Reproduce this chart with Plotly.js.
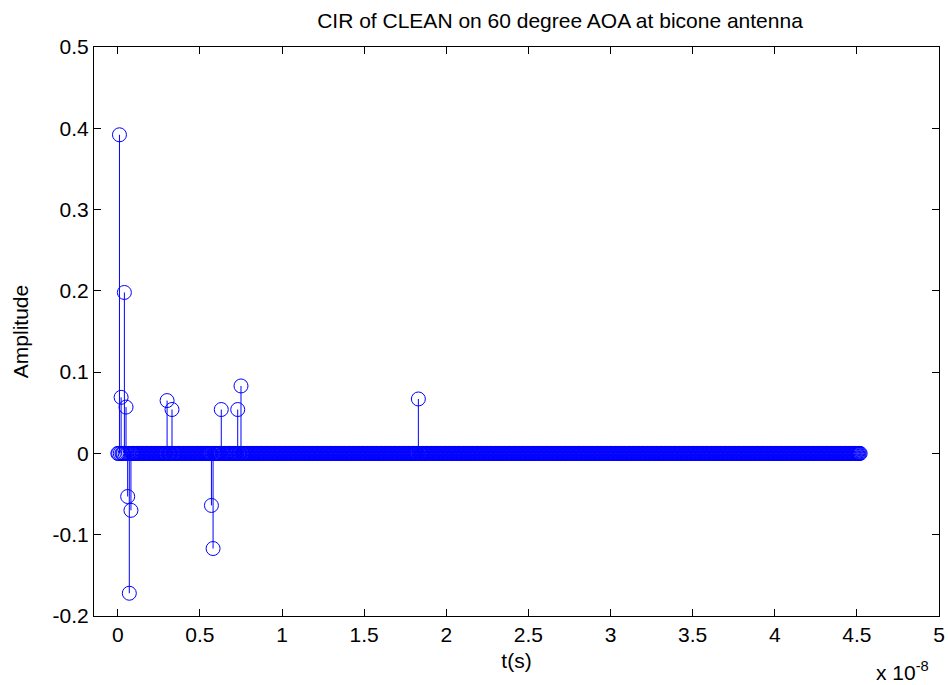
<!DOCTYPE html>
<html>
<head>
<meta charset="utf-8">
<script src="https://cdn.plot.ly/plotly-3.0.1.min.js"></script>
<style>html,body{margin:0;padding:0;background:#fff;}#chart{width:948px;height:685px;}</style>
</head>
<body>
<div id="chart"></div>
<script>
// Time grid of the CLEAN impulse response, in units of 1e-8 s
const gridStart = 0;
const gridStep = 0.005;
const gridCount = 905;

// Non-zero CLEAN taps (time in 1e-8 s, amplitude)
const tapTimes = [0.01, 0.02, 0.04, 0.05, 0.06, 0.07, 0.08, 0.30, 0.33, 0.57, 0.58, 0.63, 0.73, 0.75, 1.83];
const tapAmps  = [0.392, 0.069, 0.198, 0.057, -0.053, -0.172, -0.070, 0.065, 0.054, -0.064, -0.117, 0.054, 0.054, 0.083, 0.067];

// Tick labels
const xTickVals = [0, 0.5, 1, 1.5, 2, 2.5, 3, 3.5, 4, 4.5, 5];
const xTickText = ['0', '0.5', '1', '1.5', '2', '2.5', '3', '3.5', '4', '4.5', '5'];
const yTickVals = [-0.2, -0.1, 0, 0.1, 0.2, 0.3, 0.4, 0.5];
const yTickText = ['-0.2', '-0.1', '0', '0.1', '0.2', '0.3', '0.4', '0.5'];

// Build the sampled CIR: every grid sample, with the tap amplitude where a tap lies
const t = [];
const amp = [];
for (let i = 0; i < gridCount; i++) {
  const ti = Math.round((gridStart + i * gridStep) * 1000) / 1000;
  const k = tapTimes.findIndex(v => Math.abs(v - ti) < 1e-6);
  t.push(ti);
  amp.push(k >= 0 ? tapAmps[k] : 0);
}

// Stem lines
const sx = [], sy = [];
for (let i = 0; i < t.length; i++) {
  if (amp[i] !== 0) { sx.push(t[i], t[i], null); sy.push(0, amp[i], null); }
}

const blue = '#0000ff';
const font = {family: 'Liberation Sans, Arial, sans-serif', size: 21, color: '#000'};

const data = [
  {x: sx, y: sy, type: 'scatter', mode: 'lines', line: {color: blue, width: 1}, hoverinfo: 'skip', showlegend: false},
  {x: t, y: amp, type: 'scatter', mode: 'markers',
   marker: {symbol: 'circle-open', size: 14, color: blue, line: {color: blue, width: 1}}, showlegend: false}
];

const axisCommon = {
  showline: true, linecolor: '#000', linewidth: 1, mirror: 'ticks',
  ticks: 'inside', ticklen: 7, tickcolor: '#000', tickwidth: 1,
  showgrid: false, zeroline: false, tickfont: font, tickmode: 'array'
};

const layout = {
  width: 948, height: 685,
  paper_bgcolor: '#fff', plot_bgcolor: '#fff',
  margin: {l: 94, r: 9, t: 47, b: 69},
  font: font,
  title: {text: 'CIR of CLEAN on 60 degree AOA at bicone antenna', font: font,
          x: 560 / 948, xref: 'container', xanchor: 'center',
          y: 1 - 21 / 685, yref: 'container', yanchor: 'middle'},
  xaxis: Object.assign({}, axisCommon, {
    range: [-0.145, 5.0], tickvals: xTickVals, ticktext: xTickText,
    title: {text: 't(s)', font: font, standoff: 8}
  }),
  yaxis: Object.assign({}, axisCommon, {
    range: [-0.2, 0.5], tickvals: yTickVals, ticktext: yTickText,
    title: {text: 'Amplitude', font: font, standoff: 18}
  }),
  annotations: [{
    text: 'x 10<sup>-8</sup>', xref: 'paper', yref: 'paper', x: 1.0, y: 0, xanchor: 'right', yanchor: 'top',
    xshift: -8, yshift: -40, showarrow: false, font: font
  }]
};

Plotly.newPlot('chart', data, layout, {displayModeBar: false, staticPlot: true});
</script>
</body>
</html>
